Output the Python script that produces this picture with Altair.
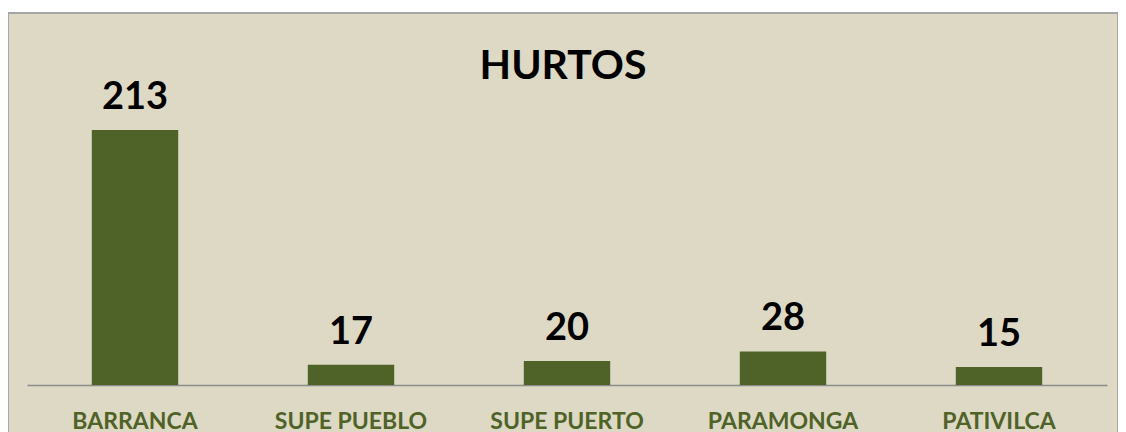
import altair as alt
import pandas as pd

categories = ["BARRANCA", "SUPE PUEBLO", "SUPE PUERTO", "PARAMONGA", "PATIVILCA"]
values = [213, 17, 20, 28, 15]
title_text = "HURTOS"

df = pd.DataFrame({"distrito": categories, "hurtos": values})

FONT = "Lato"
BG = "#DDD9C4"
BAR = "#4F6228"

x_enc = alt.X(
    "distrito:N",
    sort=categories,
    scale=alt.Scale(range=[19, 1099], paddingInner=0.6, paddingOuter=0.3),
    axis=alt.Axis(
        title=None,
        orient="bottom",
        offset=-58,
        domainColor="#8C8C8C",
        domainWidth=1.5,
        ticks=False,
        labelAngle=0,
        labelFont=FONT,
        labelFontWeight="bold",
        labelFontSize=23,
        labelColor=BAR,
        labelPadding=25,
        labelBaseline="top",
    ),
)
y_scale = alt.Scale(domain=[-48.45, 310.72], nice=False, zero=False)

base = alt.Chart(df)

bars = base.mark_bar(color=BAR).encode(
    x=x_enc,
    y=alt.Y("hurtos:Q", scale=y_scale, axis=None),
    y2=alt.datum(0),
)

labels = base.mark_text(
    font=FONT, fontWeight="bold", fontSize=38, color="black",
    baseline="alphabetic", dy=-21,
).encode(
    x=alt.X("distrito:N", sort=categories),
    y=alt.Y("hurtos:Q", scale=y_scale, axis=None),
    text="hurtos:Q",
)

chart = (
    alt.layer(bars, labels)
    .properties(
        width=1110,
        height=430,
        padding={"left": 0, "top": 5, "right": 0, "bottom": 0},
        autosize=alt.AutoSizeParams(type="none"),
        title=alt.TitleParams(
            text=title_text,
            font=FONT,
            fontWeight="bold",
            fontSize=41,
            color="black",
            anchor="middle",
            baseline="alphabetic",
            dy=111,
        ),
    )
    .configure(background="white")
    .configure_view(fill=BG, stroke="#A6A6A6", strokeWidth=2)
)

chart.save("out.html", embed_options={"renderer": "svg", "actions": False})
